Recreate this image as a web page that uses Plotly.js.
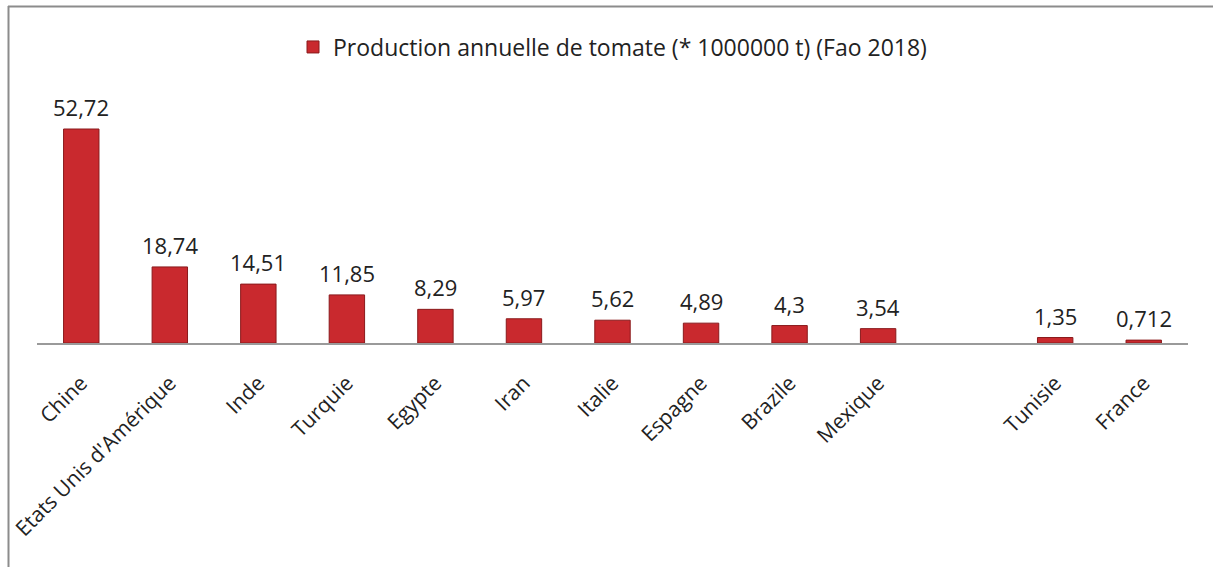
<!DOCTYPE html>
<html>
<head>
<meta charset="utf-8">
<script src="https://cdn.plot.ly/plotly-3.0.1.min.js"></script>
<style>html,body{margin:0;padding:0;background:#fff;}#chart{width:1213px;height:567px;}</style>
</head>
<body>
<div id="chart"></div>
<script>
// Data
var countries = ["Chine", "Etats Unis d'Amérique", "Inde", "Turquie", "Egypte", "Iran", "Italie", "Espagne", "Brazile", "Mexique", "Tunisie", "France"];
var positions = [0, 1, 2, 3, 4, 5, 6, 7, 8, 9, 11, 12];
var production = [52.72, 18.74, 14.51, 11.85, 8.29, 5.97, 5.62, 4.89, 4.3, 3.54, 1.35, 0.712];
var valueLabels = ["52,72", "18,74", "14,51", "11,85", "8,29", "5,97", "5,62", "4,89", "4,3", "3,54", "1,35", "0,712"];
var seriesName = "Production annuelle de tomate (* 1000000 t) (Fao 2018)";

var W = 1213, H = 567, ml = 37, mr = 25, mt = 100, mb = 224;
var pw = W - ml - mr, ph = H - mt - mb;
function px2x(p){ return (p - ml) / pw; }
function py2y(p){ return (H - mb - p) / ph; }

var FONT = 'Open Sans, Noto Sans, sans-serif';

var trace = {
  type: 'bar',
  x: positions,
  y: production,
  name: seriesName,
  width: 0.4,
  marker: {color: '#c9292e', line: {color: '#8a1a1c', width: 1}},
  hoverinfo: 'none',
  showlegend: true
};

var annotations = positions.map(function(p, i){
  return {x: p, y: production[i], xref: 'x', yref: 'y', text: valueLabels[i],
    showarrow: false, yanchor: 'bottom', yshift: 5,
    font: {family: FONT, size: 22, color: '#222'}};
});

var layout = {
  width: W, height: H,
  margin: {l: ml, r: mr, t: mt, b: mb, pad: 0},
  paper_bgcolor: '#fff', plot_bgcolor: '#fff',
  font: {family: FONT, color: '#222'},
  showlegend: true,
  legend: {orientation: 'h', x: 0.5, xanchor: 'center', y: py2y(47), yanchor: 'middle',
    font: {size: 23, color: '#222'}, itemwidth: 30, bgcolor: 'rgba(0,0,0,0)'},
  xaxis: {
    range: [-0.5, 12.5], tickmode: 'array', tickvals: positions, ticktext: countries,
    tickangle: -45, showline: true, linecolor: '#9a9a9a', linewidth: 1.5,
    showgrid: false, zeroline: false, ticks: '', ticklabelstandoff: 18,
    tickfont: {size: 21, color: '#222'}, fixedrange: true
  },
  yaxis: {range: [0, 52.72 * ph / 214], visible: false, showgrid: false, zeroline: false, fixedrange: true},
  bargap: 0.6,
  annotations: annotations,
  shapes: [
    {type: 'line', xref: 'paper', yref: 'paper', x0: px2x(8), x1: px2x(1213), y0: py2y(6.5), y1: py2y(6.5), line: {color: '#8c8c8c', width: 2}},
    {type: 'line', xref: 'paper', yref: 'paper', x0: px2x(8.5), x1: px2x(8.5), y0: py2y(6), y1: py2y(567), line: {color: '#8c8c8c', width: 2}}
  ]
};

Plotly.newPlot('chart', [trace], layout, {displayModeBar: false, staticPlot: true});
</script>
</body>
</html>
